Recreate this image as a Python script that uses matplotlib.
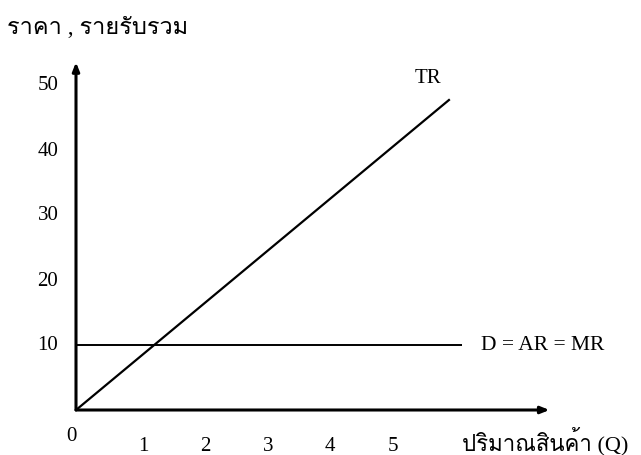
import matplotlib
matplotlib.use('Agg')
import matplotlib.pyplot as plt
from matplotlib import font_manager
from matplotlib.ft2font import FT2Font

# find an installed font that has Thai glyphs
thai_font = None
for f in font_manager.fontManager.ttflist:
    try:
        if 0x0E23 in FT2Font(f.fname).get_charmap():
            thai_font = f.name
            break
    except Exception:
        pass

serif = ['Liberation Serif', 'DejaVu Serif']
thai = serif + ([thai_font] if thai_font else [])

# data
q_tr = [0, 6.0]
tr = [0, 47.8]
q_d = [0, 6.2]
d = [10, 10]
x_ticks = [1, 2, 3, 4, 5]
y_ticks = [10, 20, 30, 40, 50]

fig = plt.figure(figsize=(6.41, 4.56), dpi=100)
ax = fig.add_axes([0, 0, 1, 1])
# pixel mapping: origin at (76, 411), 62.3 px per Q, 6.5 px per unit of value
ax.set_xlim(-76 / 62.3, (641 - 76) / 62.3)
ax.set_ylim(-45 / 6.5, (456 - 45) / 6.5)
ax.axis('off')

ax.plot(q_tr, tr, color='black', lw=1.6, solid_capstyle='butt')
ax.plot(q_d, d, color='black', lw=1.4, solid_capstyle='butt')

# axes with arrows
arrow = dict(arrowstyle='-|>,head_length=0.5,head_width=0.2', color='black', lw=2.2,
             shrinkA=0, shrinkB=0)
ax.annotate('', xy=(7.6, 0), xytext=(0, 0), arrowprops=arrow)
ax.annotate('', xy=(0, 53.5), xytext=(0, 0), arrowprops=arrow)

fs = 15
for x in x_ticks:
    ax.text(x + 0.08, -5.4, str(x), family=serif, fontsize=fs, ha='center', va='center')
ax.text(-0.08, -4.0, '0', family=serif, fontsize=fs, ha='center', va='center')
for y in y_ticks:
    ax.text(-0.45, y, str(y), family=serif, fontsize=fs, ha='center', va='center')

ax.text(5.65, 51.2, 'TR', family=serif, fontsize=fs, ha='center', va='center')
ax.text(6.5, 10, 'D = AR = MR', family=serif, fontsize=15.5, ha='left', va='center')

ax.text(-1.1, 59.0, 'ราคา , รายรับรวม', family=thai, fontsize=17, ha='left', va='center')
ax.text(6.2, -4.7, 'ปริมาณสินค้า (Q)', family=thai, fontsize=16, ha='left', va='center')

fig.savefig('out.png', dpi=100)
